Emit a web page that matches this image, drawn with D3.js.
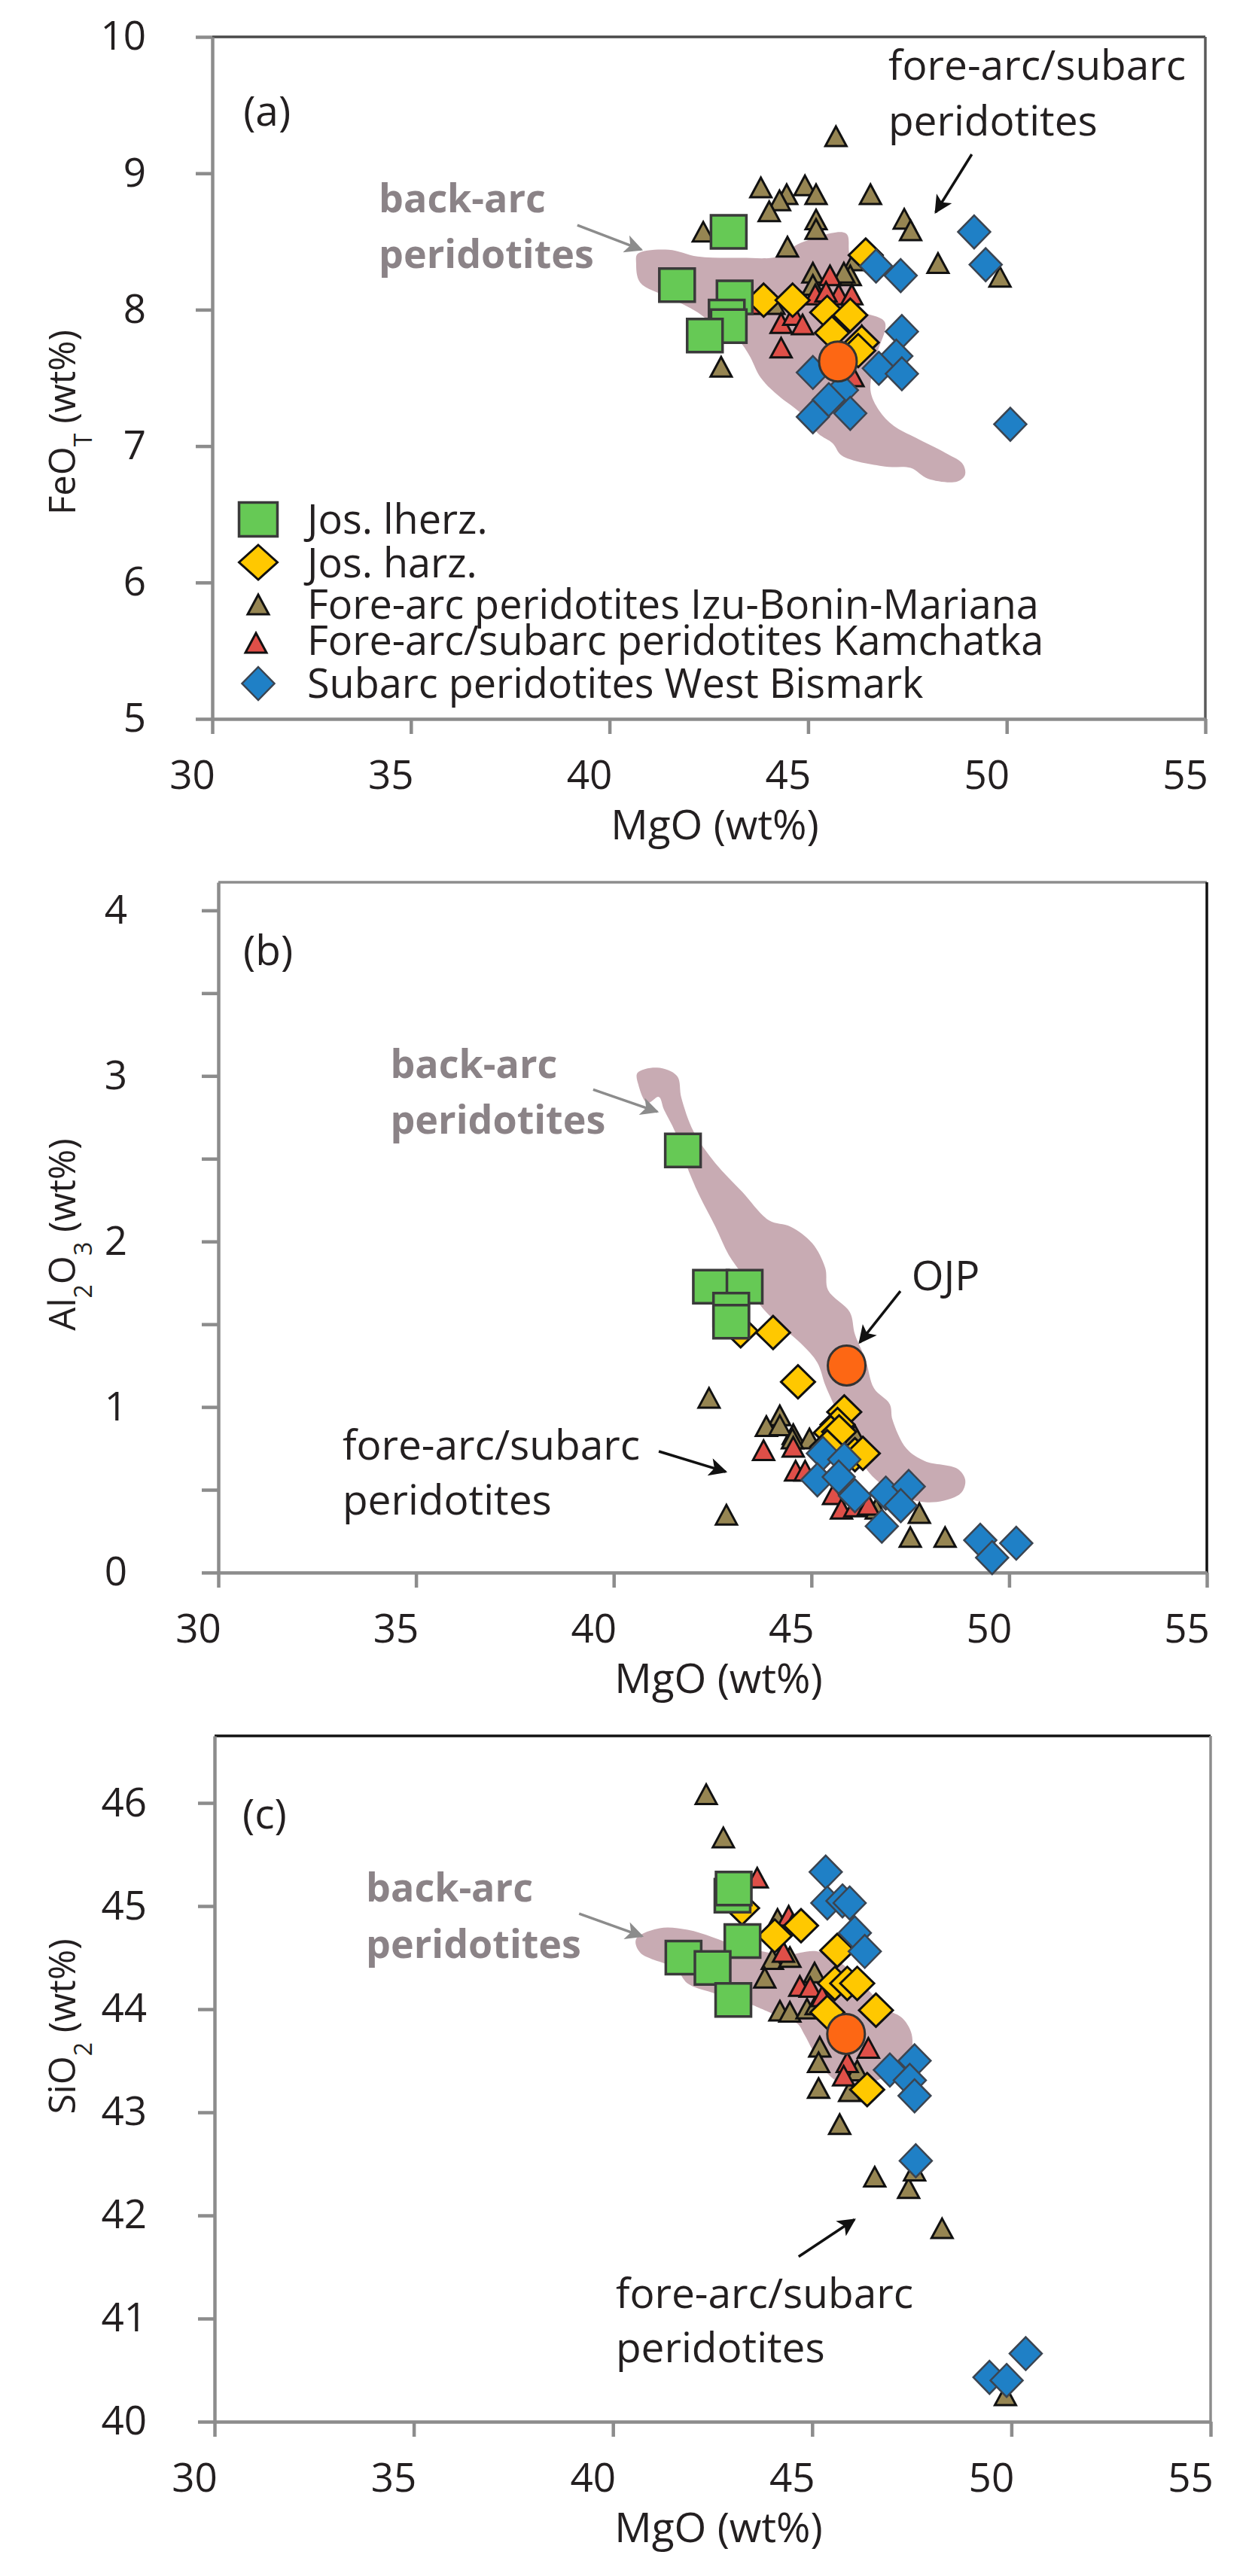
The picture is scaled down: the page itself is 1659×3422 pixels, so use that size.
<!DOCTYPE html>
<html>
<head>
<meta charset="utf-8">
<script src="https://cdn.jsdelivr.net/npm/d3@7"></script>
<style>
  body { margin: 0; background: #fff; }
  text { font-family: 'Open Sans', 'DejaVu Sans', sans-serif; fill: #231f20; }
</style>
</head>
<body>
<div id="chart"></div>
<script>

// ---- data : [MgO, oxide] wt% ----

// (a) FeOT
var lherzA = [[43.0,8.57],[41.7,8.18],[43.15,8.09],[42.95,7.95],[43.0,7.88],[42.4,7.81]];
var harzA  = [[43.88,8.07],[44.61,8.07],[45.48,7.98],[46.06,7.96],[45.6,7.83],[46.35,7.76],[46.45,8.40],[46.26,7.70]];
var izuA   = [[45.7,9.26],[43.81,8.885],[44.46,8.835],[44.28,8.79],[44.92,8.90],[45.2,8.835],[44.02,8.71],[46.57,8.835],
              [45.2,8.65],[45.2,8.58],[47.42,8.655],[47.58,8.57],[42.36,8.56],[44.48,8.45],[48.27,8.33],[49.83,8.23],
              [45.12,8.26],[46.17,8.35],[46.06,8.24],[45.9,8.26],[45.12,8.17],[44.14,8.03],[42.81,7.57]];
var kamA   = [[43.55,8.03],[44.32,7.89],[44.64,7.95],[44.86,7.88],[44.32,7.71],[45.18,8.10],[45.55,8.24],[45.77,8.10],
              [46.1,8.10],[46.35,7.80],[46.13,7.50],[45.45,8.12]];
var bismA  = [[49.18,8.57],[49.47,8.33],[46.71,8.32],[47.33,8.25],[47.36,7.84],[47.22,7.66],[46.78,7.57],[47.36,7.53],
              [45.12,7.54],[45.85,7.41],[45.52,7.34],[45.12,7.215],[46.06,7.24],[50.09,7.16]];
var ojpA   = [[45.75,7.62]];
var backArcA = [[40.71,8.41],[41.49,8.44],[42.22,8.39],[43.31,8.38],[44.25,8.39],[44.82,8.49],[45.95,8.56],[46.03,8.42],
              [46.13,8.11],[46.28,8.00],[46.93,7.91],[46.74,7.68],[46.57,7.41],[46.79,7.26],[47.15,7.15],[47.72,7.06],
              [48.46,6.95],[48.89,6.87],[48.95,6.79],[48.75,6.74],[48.02,6.76],[47.58,6.84],[46.93,6.85],[45.85,6.93],
              [45.62,7.02],[45.26,7.09],[44.82,7.24],[44.25,7.37],[43.81,7.50],[43.51,7.67],[43.23,7.78],[42.87,7.83],
              [42.22,7.98],[41.49,8.09],[40.77,8.20],[40.67,8.34]];

// (b) Al2O3
var lherzB = [[41.75,2.55],[42.46,1.727],[43.31,1.727],[42.97,1.588],[42.97,1.515]];
var harzB  = [[43.21,1.46],[44.03,1.45],[44.66,1.152],[45.83,0.97],[45.66,0.894],[45.49,0.845],[46.1,0.712],[46.3,0.72],
              [45.7,0.85],[45.4,0.76]];
var izuB   = [[42.41,1.046],[44.2,0.94],[43.86,0.875],[44.54,0.826],[44.2,0.88],[44.95,0.80],[46.1,0.82],[42.85,0.34],
              [47.5,0.205],[48.38,0.205],[47.73,0.35],[46.64,0.376],[44.52,0.80]];
var kamB   = [[43.79,0.73],[44.54,0.75],[44.6,0.606],[44.84,0.606],[45.56,0.464],[45.76,0.376],[46.1,0.39],[46.44,0.40]];
var bismB  = [[45.29,0.72],[45.83,0.683],[45.15,0.56],[45.69,0.577],[46.1,0.464],[46.88,0.48],[47.46,0.52],[47.26,0.404],
              [46.78,0.28],[49.27,0.195],[50.18,0.177],[49.57,0.09]];
var ojpB   = [[45.89,1.251]];
var backArcB = [[40.60,3.018],[41.10,3.05],[41.60,3.0],[41.71,2.868],[42.02,2.664],[42.57,2.473],[43.25,2.30],[43.93,2.127],
              [44.47,2.09],[45.02,1.99],[45.35,1.84],[45.42,1.706],[45.97,1.573],[46.10,1.439],[46.37,1.286],[46.58,1.114],
              [46.98,1.018],[47.05,0.923],[47.40,0.75],[47.87,0.673],[48.69,0.627],[48.89,0.559],[48.79,0.482],[48.35,0.434],
              [47.87,0.425],[47.46,0.445],[47.12,0.482],[46.64,0.559],[46.30,0.655],[46.10,0.75],[45.83,0.884],[45.56,1.018],
              [45.35,1.132],[45.15,1.268],[44.74,1.382],[44.20,1.495],[43.72,1.611],[43.25,1.80],[42.91,1.918],[42.57,2.09],
              [42.16,2.28],[41.82,2.473],[41.55,2.664],[41.27,2.797],[41.14,2.873],[40.85,2.836],[40.62,2.95]];

// (c) SiO2
var lherzC = [[43.0,45.1],[43.03,45.17],[43.25,44.66],[41.77,44.50],[42.5,44.40],[43.02,44.09]];
var harzC  = [[43.24,44.98],[44.06,44.71],[44.72,44.81],[45.63,44.57],[45.57,44.25],[45.88,44.25],[46.13,44.25],[46.6,43.99],
              [45.38,43.97],[46.38,43.22]];
var izuC   = [[42.34,46.07],[42.77,45.65],[44.13,44.86],[44.0,44.47],[44.44,44.49],[43.81,44.29],[45.06,44.34],[44.19,43.97],
              [44.44,43.96],[44.87,43.99],[45.1,44.03],[45.19,43.62],[45.16,43.47],[46.13,43.39],[45.16,43.22],[45.94,43.19],
              [45.69,42.87],[46.57,42.36],[47.42,42.25],[47.57,42.42],[48.26,41.86],[49.85,40.24]];
var kamC   = [[43.62,45.26],[44.41,44.89],[44.5,44.8],[44.28,44.54],[44.69,44.21],[44.95,44.2],[45.25,44.11],[46.41,43.61],
              [45.88,43.47],[45.79,43.34]];
var bismC  = [[45.34,45.33],[45.38,45.03],[45.76,45.05],[45.94,45.03],[46.07,44.74],[46.32,44.56],[46.95,43.41],[47.57,43.50],
              [47.45,43.31],[47.57,43.16],[47.6,42.53],[49.45,40.43],[49.88,40.40],[50.36,40.66]];
var ojpC   = [[45.85,43.76]];
var backArcC = [[40.58,44.68],[41.17,44.785],[41.87,44.77],[42.49,44.70],[43.13,44.61],[43.75,44.56],[44.38,44.53],[45.13,44.56],
              [45.78,44.43],[46.35,44.21],[46.88,44.0],[47.26,43.915],[47.48,43.78],[47.51,43.635],[47.38,43.50],[47.0,43.39],
              [46.57,43.30],[46.13,43.27],[45.63,43.30],[45.25,43.44],[45.0,43.61],[44.81,43.75],[44.63,43.86],[44.25,43.915],
              [43.75,44.0],[43.44,44.05],[42.49,44.16],[41.87,44.25],[41.58,44.39],[40.68,44.55]];

// ticks
var xTicks = [30, 35, 40, 45, 50, 55];
var yTicksA = [5, 6, 7, 8, 9, 10];
var yTicksB = [0, 0.5, 1, 1.5, 2, 2.5, 3, 3.5, 4];
var yTicksC = [40, 41, 42, 43, 44, 45, 46];

var legendNames = ['Jos. lherz.', 'Jos. harz.', 'Fore-arc peridotites Izu-Bonin-Mariana',
                   'Fore-arc/subarc peridotites Kamchatka', 'Subarc peridotites West Bismark'];


// ---- marker shapes ----
function rectPath(w, h) { return 'M' + (-w/2) + ',' + (-h/2) + 'h' + w + 'v' + h + 'h' + (-w) + 'Z'; }
function diamondPath(w, h) { return 'M0,' + (-h/2) + 'L' + (w/2) + ',0L0,' + (h/2) + 'L' + (-w/2) + ',0Z'; }
function triPath(w, h) { return 'M0,' + (-h*0.58) + 'L' + (w/2) + ',' + (h*0.42) + 'L' + (-w/2) + ',' + (h*0.42) + 'Z'; }

var styles = {
  lherz: { d: rectPath(47, 44),    fill: '#66c955', stroke: '#3a3a3a', sw: 3.5 },
  harz:  { d: diamondPath(45, 44), fill: '#ffc800', stroke: '#111',    sw: 3 },
  izu:   { d: triPath(28, 26),     fill: '#968552', stroke: '#111',    sw: 3 },
  kam:   { d: triPath(28, 26),     fill: '#df4f48', stroke: '#111',    sw: 3 },
  bism:  { d: diamondPath(43, 44), fill: '#1f80c6', stroke: '#3b4450', sw: 2.5 }
};

var svg = d3.select('#chart').append('svg')
  .attr('width', 1659)
  .attr('height', 3422);

svg.append('rect').attr('width', 1659).attr('height', 3422).attr('fill', '#fff');

// arrow heads
var defs = svg.append('defs');
[['arrBlack', '#111'], ['arrGray', '#8c8c8c']].forEach(function(a) {
  defs.append('marker')
    .attr('id', a[0])
    .attr('viewBox', '0 0 10 10')
    .attr('refX', 9).attr('refY', 5)
    .attr('markerUnits', 'userSpaceOnUse')
    .attr('markerWidth', 30).attr('markerHeight', 24)
    .attr('orient', 'auto')
    .append('path')
    .attr('d', 'M0,0L10,5L0,10L2.5,5Z')
    .attr('fill', a[1]);
});


// ---- panel ----
function drawPanel(p) {
  var x = d3.scaleLinear().domain([30, 55]).range([p.left, p.right]);
  var y = d3.scaleLinear().domain(p.yDomain).range([p.bottom, p.top]);
  var g = svg.append('g');

  // back-arc field
  g.append('path')
    .attr('d', d3.line().curve(d3.curveCatmullRomClosed).x(function(d){ return x(d[0]); }).y(function(d){ return y(d[1]); })(p.backArc))
    .attr('fill', '#c8abb3');

  // frame (top / right)
  g.append('line').attr('x1', p.left).attr('x2', p.right).attr('y1', p.top).attr('y2', p.top)
    .attr('stroke', p.topColor).attr('stroke-width', 3.5);
  g.append('line').attr('x1', p.right).attr('x2', p.right).attr('y1', p.top).attr('y2', p.bottom)
    .attr('stroke', p.rightColor).attr('stroke-width', 3.5);

  // axes
  var yAxis = g.append('g')
    .attr('transform', 'translate(' + p.left + ',0)')
    .call(d3.axisLeft(y).tickValues(p.yTicks).tickSize(22).tickSizeOuter(0).tickPadding(p.yLabelGap)
      .tickFormat(function(d){ return d % 1 === 0 ? d : ''; }));
  var xAxis = g.append('g')
    .attr('transform', 'translate(0,' + p.bottom + ')')
    .call(d3.axisBottom(x).tickValues(xTicks).tickSize(20).tickSizeOuter(0));

  [yAxis, xAxis].forEach(function(ax) {
    ax.select('.domain').attr('stroke', '#8c8c8c').attr('stroke-width', 4.5);
    ax.selectAll('.tick line').attr('stroke', '#8c8c8c').attr('stroke-width', 4.5);
    ax.selectAll('text').attr('font-size', 53).attr('font-family', "'Open Sans', sans-serif").attr('fill', '#231f20');
  });
  xAxis.selectAll('text').attr('y', 93).attr('dy', 0).attr('dx', -27);

  // axis titles
  g.append('text')
    .attr('x', (p.left + p.right) / 2 + 8)
    .attr('y', p.bottom + 160)
    .attr('text-anchor', 'middle')
    .attr('font-size', 55)
    .text('MgO (wt%)');

  var yt = g.append('text')
    .attr('transform', 'translate(100,' + p.titleY + ') rotate(-90)')
    .attr('text-anchor', 'middle')
    .attr('font-family', "'DejaVu Sans', Verdana, sans-serif")
    .attr('font-size', 49);
  p.yTitle.forEach(function(part) {
    var t = yt.append('tspan').text(part[0]);
    if (part[1]) t.attr('baseline-shift', 'sub').attr('font-size', 32);
  });

  // panel letter
  g.append('text').attr('x', x(p.letter[0])).attr('y', y(p.letter[1]))
    .attr('font-size', 55).text(p.letter[2]);

  // annotations
  p.notes.forEach(function(n) {
    n.lines.forEach(function(s, i) {
      g.append('text')
        .attr('x', x(n.at[0])).attr('y', y(n.at[1]) + i * n.step)
        .attr('font-size', n.gray ? 52 : 55)
        .attr('font-weight', n.gray ? 'bold' : 'normal')
        .style('fill', n.gray ? '#8b8387' : '#231f20')
        .text(s);
    });
    g.append('line')
      .attr('x1', x(n.from[0])).attr('y1', y(n.from[1]))
      .attr('x2', x(n.to[0])).attr('y2', y(n.to[1]))
      .attr('stroke', n.gray ? '#8c8c8c' : '#111')
      .attr('stroke-width', 3.5)
      .attr('marker-end', n.gray ? 'url(#arrGray)' : 'url(#arrBlack)');
  });

  // points
  [['izu', p.izu], ['kam', p.kam], ['harz', p.harz], ['lherz', p.lherz], ['bism', p.bism]].forEach(function(s) {
    var st = styles[s[0]];
    g.selectAll('.pt-' + s[0])
      .data(s[1])
      .enter()
      .append('path')
      .attr('class', 'pt-' + s[0])
      .attr('transform', function(d){ return 'translate(' + x(d[0]) + ',' + y(d[1]) + ')'; })
      .attr('d', st.d)
      .attr('fill', st.fill)
      .attr('stroke', st.stroke)
      .attr('stroke-width', st.sw)
      .attr('stroke-linejoin', 'miter');
  });

  g.selectAll('.ojp')
    .data(p.ojp)
    .enter()
    .append('ellipse')
    .attr('cx', function(d){ return x(d[0]); })
    .attr('cy', function(d){ return y(d[1]); })
    .attr('rx', 25).attr('ry', 26.5)
    .attr('fill', '#fd6714')
    .attr('stroke', '#333')
    .attr('stroke-width', 3);

  return g;
}

var gA = drawPanel({
  left: 282, right: 1601, top: 49, bottom: 955, yDomain: [5, 10], yTicks: yTicksA, yLabelGap: 66,
  titleY: 561, yTitle: [['FeO'], ['T', true], [' (wt%)']], topColor: '#4a4a4a', rightColor: '#5a5a5a',
  letter: [30.78, 9.35, '(a)'],
  backArc: backArcA, lherz: lherzA, harz: harzA, izu: izuA, kam: kamA, bism: bismA, ojp: ojpA,
  notes: [
    { lines: ['back-arc', 'peridotites'], at: [34.19, 8.714], step: 74, gray: true, from: [39.19, 8.62], to: [40.80, 8.44] },
    { lines: ['fore-arc/subarc', 'peridotites'], at: [47.02, 9.685], step: 74, gray: false, from: [49.12, 9.139], to: [48.21, 8.714] }
  ]
});

drawPanel({
  left: 290, right: 1603, top: 1172, bottom: 2089, yDomain: [0, 4.17], yTicks: yTicksB, yLabelGap: 99,
  titleY: 1640, yTitle: [['Al'], ['2', true], ['O'], ['3', true], [' (wt%)']], topColor: '#8c8c8c', rightColor: '#111',
  letter: [30.63, 3.668, '(b)'],
  backArc: backArcB, lherz: lherzB, harz: harzB, izu: izuB, kam: kamB, bism: bismB, ojp: ojpB,
  notes: [
    { lines: ['back-arc', 'peridotites'], at: [34.35, 2.986], step: 74, gray: true, from: [39.48, 2.918], to: [41.10, 2.784] },
    { lines: ['OJP'], at: [47.53, 1.706], step: 0, gray: false, from: [47.25, 1.70], to: [46.22, 1.39] },
    { lines: ['fore-arc/subarc', 'peridotites'], at: [33.14, 0.682], step: 73, gray: false, from: [41.14, 0.732], to: [42.83, 0.609] }
  ]
});

drawPanel({
  left: 285, right: 1608, top: 2306, bottom: 3217, yDomain: [40, 46.65], yTicks: yTicksC, yLabelGap: 68,
  titleY: 2692, yTitle: [['SiO'], ['2', true], [' (wt%)']], topColor: '#111', rightColor: '#8c8c8c',
  letter: [30.70, 45.75, '(c)'],
  backArc: backArcC, lherz: lherzC, harz: harzC, izu: izuC, kam: kamC, bism: bismC, ojp: ojpC,
  notes: [
    { lines: ['back-arc', 'peridotites'], at: [33.80, 45.047], step: 75, gray: true, from: [39.15, 44.927], to: [40.73, 44.708] },
    { lines: ['fore-arc/subarc', 'peridotites'], at: [40.07, 41.10], step: 72, gray: false, from: [44.66, 41.60], to: [46.06, 41.96] }
  ]
});

// ---- legend (panel a) ----
var legKeys = ['lherz', 'harz', 'izu', 'kam', 'bism'];
var legY = [690, 747, 805, 856, 908];
var legBase = [709, 767, 822, 870, 927];
var leg = gA.append('g');
legKeys.forEach(function(k, i) {
  var st = styles[k];
  var d = k === 'lherz' ? rectPath(51, 45) : (k === 'harz' ? diamondPath(51, 46) : st.d);
  leg.append('path')
    .attr('transform', 'translate(' + (k === 'kam' ? 340 : 343) + ',' + legY[i] + ')')
    .attr('d', d)
    .attr('fill', st.fill)
    .attr('stroke', st.stroke)
    .attr('stroke-width', st.sw);
  leg.append('text')
    .attr('x', 408).attr('y', legBase[i])
    .attr('font-size', 54)
    .text(legendNames[i]);
});

</script>
</body>
</html>
